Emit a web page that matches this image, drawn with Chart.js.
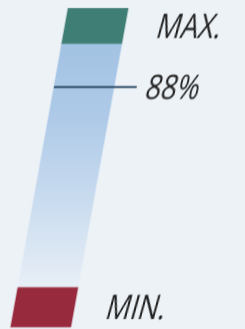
<!DOCTYPE html>
<html>
<head>
<meta charset="utf-8">
<script src="https://cdn.jsdelivr.net/npm/chart.js@4/dist/chart.umd.min.js"></script>
<style>
  html, body { margin: 0; padding: 0; background: #edf2f7; overflow: hidden; }
  #wrap { width: 245px; height: 329px; }
  canvas { display: block; transform: skewX(-10.2deg); transform-origin: 50% 50%; }
</style>
</head>
<body>
<div id="wrap"><canvas id="c" width="245" height="329"></canvas></div>
<script>
// ---- data ----
const bandNames = ['MIN.', 'level', 'MAX.'];
const bandLow   = [21, 32, 100];
const bandHigh  = [32, 100, 110];
const markerValue = 88;
const markerLabel = '88%';
const textLabels = ['MAX.', markerLabel, 'MIN.'];
const textValues = [105, markerValue, 26.5];

// ---- styling ----
const colMin = '#982a3e';
const colMax = '#3f7e75';
const colLine = '#2d4a66';
const yMin = 20.4, yMax = 112.3;
const xMin = -0.667, xMax = 3.417;
const gaugeX = 0.5;
const markerSpan = [0, 1.38];
const labelX = 1.53;

function gradientFill(ctx) {
  const chart = ctx.chart;
  const ys = chart.scales.y;
  if (!chart.chartArea || !ys) return '#c3d9ee';
  const top = ys.getPixelForValue(bandHigh[1]);
  const bot = ys.getPixelForValue(bandLow[1]);
  if (!isFinite(top) || !isFinite(bot)) return '#c3d9ee';
  const g = chart.ctx.createLinearGradient(0, top, 0, bot);
  g.addColorStop(0, '#a3c3e4');
  g.addColorStop(0.3, '#aecae8');
  g.addColorStop(0.65, '#cadcef');
  g.addColorStop(1, '#e8eff7');
  return g;
}

const bandColors = [colMin, gradientFill, colMax];

const datasets = bandNames.map((name, i) => ({
  type: 'bar',
  label: name,
  data: [{ x: gaugeX, y: [bandLow[i], bandHigh[i]] }],
  backgroundColor: bandColors[i],
  borderWidth: 0,
  grouped: false,
  maxBarThickness: 60,
  barPercentage: 1,
  categoryPercentage: 1,
  order: 2
}));

datasets.push({
  type: 'line',
  label: markerLabel,
  data: [{ x: markerSpan[0], y: markerValue }, { x: markerSpan[1], y: markerValue }],
  borderColor: colLine,
  borderWidth: 2,
  pointRadius: 0,
  fill: false,
  order: 0
});

const labelPlugin = {
  id: 'sideLabels',
  afterDraw(chart) {
    const ctx = chart.ctx;
    const xs = chart.scales.x, ys = chart.scales.y;
    ctx.save();
    ctx.fillStyle = '#1f1f1f';
    ctx.font = '34px "Open Sans", sans-serif';
    ctx.textBaseline = 'alphabetic';
    ctx.textAlign = 'left';
    textLabels.forEach((t, i) => {
      const px = xs.getPixelForValue(labelX);
      const py = ys.getPixelForValue(textValues[i]) + 12;
      ctx.save();
      ctx.translate(px, py);
      ctx.transform(0.8, 0, -0.10, 1, 0, 0);
      ctx.fillText(t, 0, 0);
      ctx.restore();
    });
    ctx.restore();
  }
};

new Chart(document.getElementById('c'), {
  type: 'bar',
  data: { datasets },
  options: {
    responsive: false,
    animation: false,
    devicePixelRatio: 1,
    layout: { padding: 0 },
    plugins: { legend: { display: false }, tooltip: { enabled: false } },
    scales: {
      x: { type: 'linear', min: xMin, max: xMax, display: false, offset: false },
      y: { type: 'linear', min: yMin, max: yMax, display: false }
    }
  },
  plugins: [labelPlugin]
});
</script>
</body>
</html>
